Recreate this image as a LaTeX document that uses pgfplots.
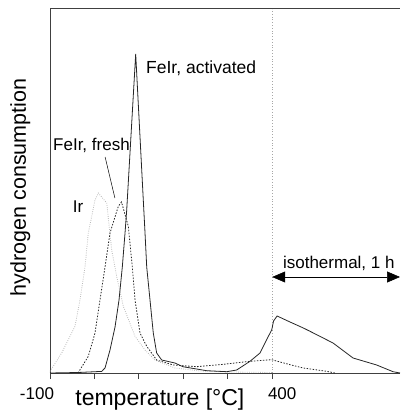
\documentclass[border=0pt]{standalone}
\usepackage{pgfplots}
\pgfplotsset{compat=1.18}
\usetikzlibrary{arrows.meta}
\usepackage{fontspec}
\setmainfont{Liberation Sans}

\pgfplotstableread{
T h
-100 0
-37 0.5
16.3 1.6
23.8 5
35 23
46.3 46
55.3 73
62.7 106
68.8 140
72.6 163
92.8 319
109.9 173
113.8 140
117.6 106
125 73
132.4 40
140 20
151.3 13
181 10
199 6.3
252.6 2.3
297.6 1.3
320 3
350 11.7
372.5 20
390.5 36
398.8 43
403 52
411 57
440 51
470 45
485 41.7
536.8 30
581.8 15
635 8
671.8 1.3
687.5 0
}\activated

\pgfplotstableread{
T h
-37 0
-13.8 16.7
1.25 40
12.5 73
23.8 106
35 140
53.7 166.7
60.9 171
76.2 146.7
85.2 106
91.3 73
102.5 40
117.6 26.7
140 13
177.4 8
230 6.3
290 8.7
350 11.7
398.8 13.3
440 8.3
470 5
522.6 1.7
541 0
}\fresh

\pgfplotstableread{
T h
-100 1.7
-73.7 20
-43.8 46.7
-32.5 73
-21.3 106
-13.8 140
1.25 173
8.7 180
27.6 170
38.8 123
50 96.7
65 66.7
91.3 36.7
113.8 23
136 13
181 5
237.5 2
305 1
400 0.5
}\iridium

\begin{document}
\begin{tikzpicture}
\begin{axis}[
  at={(0,0)}, anchor=south west,
  scale only axis, width=350pt, height=364pt,
  xmin=-100, xmax=687.5, ymin=0, ymax=364,
  axis lines*=left,
  axis line style={-, line width=1pt, color=black!75},
  xtick={-100,0,100,200,300,400}, xticklabels={},
  ytick=\empty,
  tick align=outside, major tick length=6pt,
  xtick style={line width=0.8pt, color=black!75},
  clip=false,
  xlabel={temperature [°C]},
  xlabel style={at={(axis description cs:0.314,-0.074)}, anchor=center, font=\fontsize{23}{27}\selectfont},
  ylabel={hydrogen consumption},
  ylabel style={at={(axis description cs:-0.085,0.51)}, anchor=center, rotate=0, font=\fontsize{21.5}{25}\selectfont},
]
\draw[line width=1pt, black!75] (rel axis cs:0,1) -- (rel axis cs:1,1);
\addplot[gray!70, dotted, line width=0.8pt] coordinates {(400,0) (400,364)};
\addplot[gray!55, line width=0.8pt, dash pattern=on 0.8pt off 1.4pt] table[x=T,y=h] {\iridium};
\addplot[black!85, line width=0.8pt, dash pattern=on 1.5pt off 1.5pt] table[x=T,y=h] {\fresh};
\addplot[black!85, line width=0.8pt] table[x=T,y=h] {\activated};

\draw[line width=0.5pt] (axis cs:24,216) -- (axis cs:46,175);
\draw[{Triangle[length=13pt,width=11pt]}-{Triangle[length=13pt,width=11pt]}, line width=0.6pt] (axis cs:400,96) -- (axis cs:687.5,96);

\node[anchor=west, inner sep=0pt, font=\fontsize{17.5}{20}\selectfont] at (axis cs:116,305) {FeIr, activated};
\node[anchor=west, inner sep=0pt, font=\fontsize{17}{20}\selectfont] at (axis cs:-93.25,228) {FeIr, fresh};
\node[anchor=center, inner sep=0pt, font=\fontsize{17}{20}\selectfont] at (axis cs:-37,166) {Ir};
\node[anchor=west, inner sep=0pt, font=\fontsize{17}{20}\selectfont] at (axis cs:424,110) {isothermal, 1 h};

\node[inner sep=0pt, font=\fontsize{17}{19}\selectfont] at (axis cs:-100,0) [xshift=-13pt, yshift=-21pt] {-100};
\node[inner sep=0pt, font=\fontsize{17}{19}\selectfont] at (axis cs:400,0) [xshift=10pt, yshift=-21pt] {400};
\end{axis}
\pgfresetboundingbox
\useasboundingbox (-50pt,-41pt) rectangle (350pt,373pt);
\end{tikzpicture}
\end{document}
